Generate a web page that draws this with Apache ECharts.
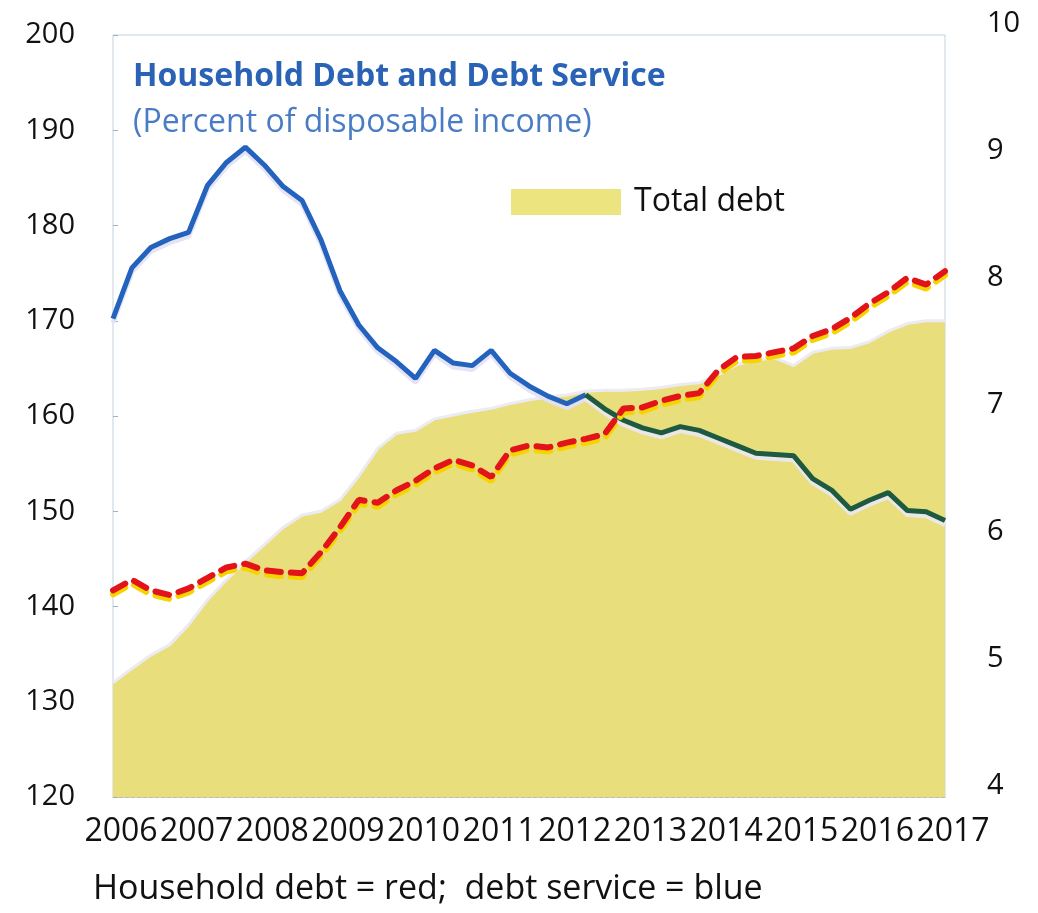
<!DOCTYPE html>
<html>
<head>
<meta charset="utf-8">
<script src="https://cdn.jsdelivr.net/npm/echarts@6/dist/echarts.min.js"></script>
<style>
  html, body { margin: 0; padding: 0; background: #fff; }
  #chart { width: 1038px; height: 913px; }
</style>
</head>
<body>
<div id="chart"></div>
<script>
// quarterly, 2006Q1 .. 2017Q1
var quarters = [];
for (var y = 2006; y <= 2017; y++) {
    for (var q = 1; q <= 4; q++) {
        if (y == 2017 && q > 1) break;
        quarters.push(y + 'Q' + q);
    }
}

// yellow area, left axis
var totalDebt = [132.0, 133.5, 134.9, 136.0, 138.1, 140.7, 142.8, 144.7, 146.5, 148.3,
    149.6, 150.0, 151.2, 153.7, 156.6, 158.2, 158.5, 159.7, 160.1, 160.5,
    160.8, 161.3, 161.7, 162.0, 162.2, 162.6, 162.7, 162.7, 162.8, 163.0,
    163.3, 163.5, 164.3, 165.4, 165.9, 166.1, 165.3, 166.7, 167.1, 167.2,
    167.8, 168.9, 169.7, 170.0, 170.0];

// red dashed, left axis
var householdDebt = [141.7, 142.8, 141.7, 141.2, 141.9, 143.0, 144.1, 144.5, 143.8, 143.6,
    143.5, 145.7, 148.3, 151.2, 150.9, 152.2, 153.2, 154.5, 155.4, 154.8,
    153.6, 156.4, 156.9, 156.7, 157.2, 157.6, 158.1, 160.8, 160.9, 161.6,
    162.1, 162.4, 164.8, 166.2, 166.3, 166.7, 167.1, 168.4, 169.1, 170.3,
    171.8, 173.0, 174.5, 173.8, 175.2];

// blue line, right axis
var debtService = [7.68, 8.08, 8.24, 8.31, 8.36, 8.73, 8.91, 9.03, 8.89, 8.72,
    8.61, 8.30, 7.90, 7.63, 7.45, 7.34, 7.21, 7.43, 7.33, 7.31,
    7.43, 7.25, 7.15, 7.07, 7.01, 7.08, 6.97, 6.88, 6.82, 6.78,
    6.83, 6.80, 6.74, 6.68, 6.62, 6.61, 6.60, 6.42, 6.33, 6.18,
    6.25, 6.31, 6.17, 6.16, 6.09];

var leftTicks = {min: 120, max: 200, interval: 10};
var rightTicks = {min: 4, max: 10, interval: 1};

// blue line turns dark green where it runs over the yellow area
var splitAt = 25;
var serviceOut = debtService.map(function (v, i) { return i <= splitAt ? v : null; });
var serviceIn = debtService.map(function (v, i) { return i >= splitAt ? v : null; });

var font = 'Open Sans';
var chart = echarts.init(document.getElementById('chart'));

var option = {
    backgroundColor: '#fff',
    animation: false,
    textStyle: {fontFamily: font},
    title: {
        text: 'Household Debt and Debt Service',
        subtext: '(Percent of disposable income)',
        left: 128,
        top: 56,
        itemGap: 14,
        textStyle: {fontFamily: font, fontSize: 32, fontWeight: 'bold', color: '#2a63b5'},
        subtextStyle: {fontFamily: font, fontSize: 32, color: '#4a7cc6'}
    },
    legend: {
        data: ['Total debt'],
        left: 506,
        top: 181,
        icon: 'rect',
        itemWidth: 110,
        itemHeight: 26,
        itemGap: 10,
        textStyle: {fontFamily: font, fontSize: 32, color: '#111', padding: [0, 0, 0, 8]}
    },
    grid: [
        {left: 113, right: 93, top: 35, bottom: 116, show: true, borderColor: '#c3d2de', borderWidth: 1},
        {left: 113, right: 93, top: 24, bottom: 127}
    ],
    xAxis: [
        {
            type: 'category',
            data: quarters,
            boundaryGap: false,
            gridIndex: 0,
            axisLine: {show: true, lineStyle: {color: '#b9bdb0', type: 'dashed'}},
            axisTick: {show: false},
            axisLabel: {
                interval: 3,
                margin: 19,
                padding: [0, 0, 0, 16],
                fontFamily: font,
                fontSize: 32,
                color: '#111',
                formatter: function (v) { return v.slice(0, 4); }
            }
        },
        {type: 'category', data: quarters, boundaryGap: false, gridIndex: 1, show: false}
    ],
    yAxis: [
        {
            type: 'value',
            gridIndex: 0,
            min: leftTicks.min,
            max: leftTicks.max,
            interval: leftTicks.interval,
            axisLine: {show: false},
            axisTick: {show: true, inside: true, length: 5, lineStyle: {color: '#9fb2c4'}},
            splitLine: {show: false},
            axisLabel: {margin: 38, fontFamily: font, fontSize: 29, color: '#111'}
        },
        {
            type: 'value',
            gridIndex: 1,
            position: 'right',
            min: rightTicks.min,
            max: rightTicks.max,
            interval: rightTicks.interval,
            axisLine: {show: false},
            axisTick: {show: false},
            splitLine: {show: false},
            axisLabel: {margin: 42, fontFamily: font, fontSize: 29, color: '#111'}
        }
    ],
    series: [
        {
            name: 'Total debt',
            type: 'line',
            data: totalDebt,
            xAxisIndex: 0,
            yAxisIndex: 0,
            symbol: 'none',
            z: 1,
            itemStyle: {color: '#ece47e'},
            lineStyle: {width: 3, color: '#ecebf4'},
            areaStyle: {color: '#e8de7b', opacity: 1, origin: 'start'}
        },
        {
            name: 'Debt service',
            type: 'line',
            data: serviceOut,
            xAxisIndex: 1,
            yAxisIndex: 1,
            symbol: 'none',
            z: 3,
            lineStyle: {width: 5, color: '#2463bd', shadowColor: 'rgba(225,225,245,0.9)', shadowOffsetY: 4}
        },
        {
            name: 'Debt service (over area)',
            type: 'line',
            data: serviceIn,
            xAxisIndex: 1,
            yAxisIndex: 1,
            symbol: 'none',
            z: 3,
            lineStyle: {width: 5, color: '#1d5a40', shadowColor: 'rgba(235,232,245,0.9)', shadowOffsetY: 4}
        },
        {
            name: 'Household debt',
            type: 'line',
            data: householdDebt,
            xAxisIndex: 0,
            yAxisIndex: 0,
            symbol: 'none',
            z: 4,
            lineStyle: {
                width: 6,
                color: '#e2141a',
                type: [14, 10],
                cap: 'round',
                shadowColor: '#f6d400',
                shadowOffsetY: 4
            }
        }
    ],
    graphic: [
        {
            type: 'text',
            left: 93,
            top: 872,
            style: {
                text: 'Household debt = red;  debt service = blue',
                fontFamily: font,
                fontSize: 34,
                fill: '#111'
            }
        }
    ]
};

chart.setOption(option);
</script>
</body>
</html>
